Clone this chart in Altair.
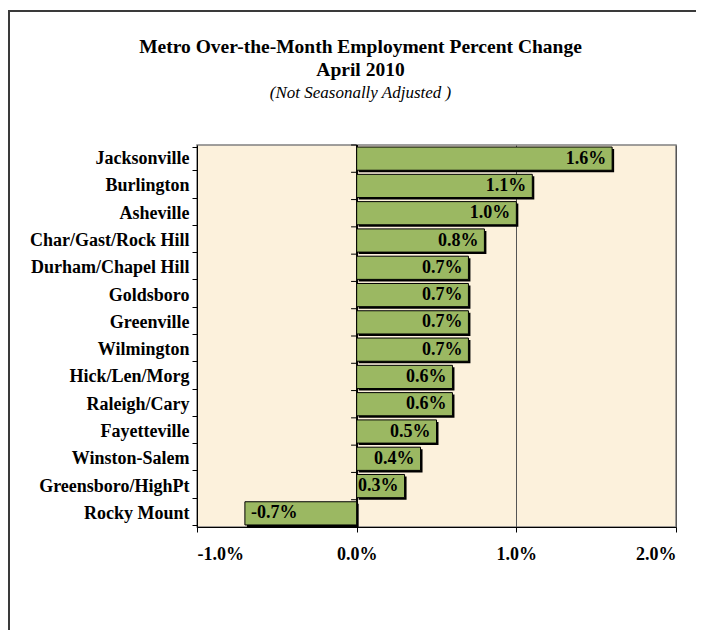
import altair as alt
import pandas as pd

cities = ["Jacksonville", "Burlington", "Asheville", "Char/Gast/Rock Hill",
          "Durham/Chapel Hill", "Goldsboro", "Greenville", "Wilmington",
          "Hick/Len/Morg", "Raleigh/Cary", "Fayetteville", "Winston-Salem",
          "Greensboro/HighPt", "Rocky Mount"]
values = [1.6, 1.1, 1.0, 0.8, 0.7, 0.7, 0.7, 0.7, 0.6, 0.6, 0.5, 0.4, 0.3, -0.7]
x_ticks = [-1.0, 0.0, 1.0, 2.0]

df = pd.DataFrame({"city": cities, "value": values})
df["label"] = [f"{v:.1f}%" for v in values]

W, H = 479, 382
STEP = H / len(cities)
FONT = "Liberation Serif"
GREEN = "#9BB862"

y_enc = alt.Y("city:N", sort=cities, title=None,
              scale=alt.Scale(domain=cities, paddingInner=0.15, paddingOuter=0.075),
              axis=alt.Axis(tickBand="extent", labelFont=FONT, labelFontSize=18,
                            labelFontWeight="bold", labelColor="black",
                            tickColor="black", tickSize=5, domainColor="black",
                            labelPadding=3, labelLimit=300, grid=False))
x_enc = alt.X("value:Q", title=None,
              scale=alt.Scale(domain=[-1, 2], nice=False, zero=False),
              axis=alt.Axis(values=x_ticks,
                            labelExpr="(datum.value < 0 ? '-' : '') + format(abs(datum.value), '.1f') + '%'",
                            labelFont=FONT, labelFontSize=18, labelFontWeight="bold",
                            labelColor="black", tickColor="black", tickSize=5,
                            domainColor="black", labelPadding=13, grid=True,
                            gridColor="#555555", gridWidth=1))

frame = pd.DataFrame({"k": [0]})

base = alt.Chart(df)

zero_rule = base.mark_rule(color="black", strokeWidth=1).encode(x=alt.datum(0))

shadow = base.mark_bar(color="black", xOffset=2, x2Offset=2, yOffset=2, y2Offset=2).encode(
    x=x_enc, y=y_enc)

bars = base.mark_bar(fill=GREEN, stroke="black", strokeWidth=1).encode(x=x_enc, y=y_enc)

zticks = base.mark_rule(color="black", strokeWidth=1, yOffset=-STEP / 2).encode(
    x=alt.datum(0), x2=alt.datum(-0.035), y=y_enc)

pos_text = base.transform_filter("datum.value >= 0").mark_text(
    align="right", baseline="middle", dx=-6, font=FONT, fontSize=18,
    fontWeight="bold", color="black").encode(x=x_enc, y=y_enc, text="label:N")

neg_text = base.transform_filter("datum.value < 0").mark_text(
    align="left", baseline="middle", dx=6, font=FONT, fontSize=18,
    fontWeight="bold", color="black").encode(x=x_enc, y=y_enc, text="label:N")

frame_top = alt.Chart(frame).mark_rect(color="#3a3a3a", strokeWidth=0).encode(
    x=alt.value(-189), x2=alt.value(500), y=alt.value(-135), y2=alt.value(-133))
frame_left = alt.Chart(frame).mark_rect(color="#3a3a3a", strokeWidth=0).encode(
    x=alt.value(-189), x2=alt.value(-187), y=alt.value(-135), y2=alt.value(490))

chart = alt.layer(zero_rule, shadow, bars, zticks, pos_text, neg_text,
                  frame_top, frame_left).properties(
    width=W, height=H,
    title=alt.TitleParams(
        text=["Metro Over-the-Month Employment Percent Change", "April 2010"],
        subtitle="(Not Seasonally Adjusted )",
        anchor="middle", dx=-76, offset=-92,
        font=FONT, fontSize=19.5, fontWeight="bold", color="black", lineHeight=23,
        subtitleFont=FONT, subtitleFontSize=17, subtitleFontStyle="italic",
        subtitleColor="black", subtitlePadding=5),
    autosize=alt.AutoSizeParams(type="none"),
    padding={"left": 189, "top": 137, "right": 20, "bottom": 103},
).configure_view(stroke="#808080", strokeWidth=1.5, fill="#FCF1DC")

chart.save("out.html", embed_options={"renderer": "svg", "actions": False})
